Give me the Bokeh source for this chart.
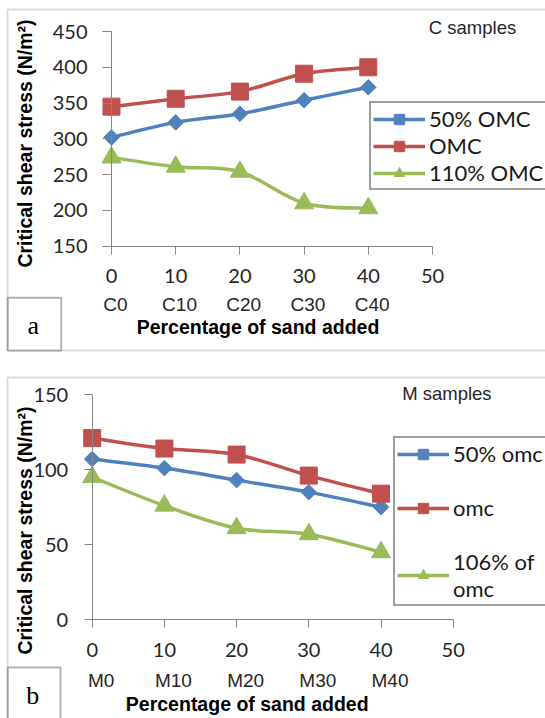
import numpy as np
from bokeh.plotting import figure
from bokeh.models import (Range1d, LinearAxis, FixedTicker, Legend, LegendItem,
                          Label, BoxAnnotation)
from bokeh.layouts import column
from bokeh.embed import file_html
from bokeh.resources import INLINE

# ---------------- data ----------------
sand_pct = [0, 10, 20, 30, 40]
x_ticks = [0, 10, 20, 30, 40, 50]
c_labels = ["C0", "C10", "C20", "C30", "C40"]
m_labels = ["M0", "M10", "M20", "M30", "M40"]

c_50_omc = [302, 323, 335, 354, 372]
c_omc = [345, 356, 366, 391, 400]
c_110_omc = [274, 261, 254, 210, 203]
c_names = ["50% OMC", "OMC", "110% OMC"]
c_y_ticks = [150, 200, 250, 300, 350, 400, 450]

m_50_omc = [107, 101, 93, 85, 75]
m_omc = [121, 114, 110, 96, 84]
m_106_omc = [95, 76, 61, 57, 45]
m_names = ["50% omc", "omc", "106% of\nomc"]
m_y_ticks = [0, 50, 100, 150]

y_title = "Critical shear stress (N/m\u00b2)"
x_title = "Percentage of sand added"

BLUE, RED, GREEN = "#4F81BD", "#C0504D", "#9BBB59"
AXIS_GRAY = "#868686"
TICK_FONT = "Lato"
TEXT_FONT = "Liberation Sans"
W = 545


def smooth_segments(xs, ys, t=1.0 / 6.0):
    """Bezier control points (Excel-like smoothed line) through the data."""
    n = len(xs)
    d = dict(x0=[], y0=[], x1=[], y1=[], cx0=[], cy0=[], cx1=[], cy1=[])
    for i in range(n - 1):
        ip, inx = max(i - 1, 0), min(i + 2, n - 1)
        d["x0"].append(xs[i]); d["y0"].append(ys[i])
        d["x1"].append(xs[i + 1]); d["y1"].append(ys[i + 1])
        d["cx0"].append(xs[i] + (xs[i + 1] - xs[ip]) * t)
        d["cy0"].append(ys[i] + (ys[i + 1] - ys[ip]) * t)
        d["cx1"].append(xs[i + 1] - (xs[inx] - xs[i]) * t)
        d["cy1"].append(ys[i + 1] - (ys[inx] - ys[i]) * t)
    return d


def panel(g):
    H = g["height"]
    x0p, xppu = g["x0_px"], g["x_ppu"]
    ybv, ybp, yppu = g["y_base"], g["y_base_px"], g["y_ppu"]
    px2x = lambda px: (px - x0p) / xppu
    py2y = lambda py: ybv + (ybp - py) / yppu

    p = figure(width=W, height=H, x_range=Range1d(px2x(0), px2x(W)),
               y_range=Range1d(py2y(H), py2y(0)), output_backend="svg",
               toolbar_location=None, x_axis_type=None, y_axis_type=None,
               min_border_left=0, min_border_right=0, min_border_top=0,
               min_border_bottom=0)
    p.outline_line_color = None
    p.background_fill_color = "white"
    p.border_fill_color = "white"
    p.extra_x_ranges = {"lab": Range1d(px2x(0) - g["lab_shift"], px2x(W) - g["lab_shift"])}

    # panel border (drawn first)
    p.add_layout(BoxAnnotation(left=px2x(7), right=px2x(W + 60),
                               top=py2y(g["border_top"]), bottom=py2y(g["border_bottom"]),
                               fill_alpha=0, line_color="#8c8c8c", line_width=2,
                               level="underlay"))

    # y axis
    ya = LinearAxis(ticker=FixedTicker(ticks=g["y_ticks"]), bounds=g["y_bounds"],
                    fixed_location=0,
                    axis_line_color=AXIS_GRAY, axis_line_width=1,
                    major_tick_line_color=AXIS_GRAY, major_tick_out=g["y_tick_out"],
                    major_tick_in=0, minor_tick_line_color=None,
                    major_label_standoff=g["y_standoff"],
                    major_label_text_font=TICK_FONT,
                    major_label_text_font_size="20px",
                    major_label_text_color="#262626")
    p.add_layout(ya, "left")

    # x axis with numbers
    xa = LinearAxis(ticker=FixedTicker(ticks=x_ticks), bounds=(0, 50),
                    fixed_location=ybv,
                    axis_line_color=AXIS_GRAY, axis_line_width=1,
                    major_tick_line_color=AXIS_GRAY, major_tick_out=8,
                    major_tick_in=0, minor_tick_line_color=None,
                    major_label_standoff=15, major_label_text_font=TICK_FONT,
                    major_label_text_font_size="20px",
                    major_label_text_color="#262626")
    p.add_layout(xa, "below")

    # sample names under the numbers
    xc = LinearAxis(ticker=FixedTicker(ticks=sand_pct), x_range_name="lab",
                    major_label_overrides=dict(zip(sand_pct, g["cat_labels"])),
                    bounds=(0, 40), fixed_location=ybv, axis_line_color=None,
                    major_tick_line_color=None, minor_tick_line_color=None,
                    major_tick_out=0, major_tick_in=0,
                    major_label_standoff=g["cat_standoff"],
                    major_label_text_font=TEXT_FONT,
                    major_label_text_font_size="19px",
                    major_label_text_color="#262626")
    p.add_layout(xc, "below")

    # axis titles
    p.add_layout(Label(x=g["ytitle_xy"][0], y=g["ytitle_xy"][1], x_units="canvas",
                       y_units="canvas", text=y_title, angle=np.pi / 2,
                       text_font=TEXT_FONT, text_font_style="bold",
                       text_font_size="19.5px", text_align="center",
                       text_baseline="middle", text_color="#000000"))
    p.add_layout(Label(x=g["xtitle_xy"][0], y=g["xtitle_xy"][1], x_units="canvas",
                       y_units="canvas", text=x_title, text_font=TEXT_FONT,
                       text_font_style="bold", text_font_size="19.5px",
                       text_align="center", text_baseline="middle",
                       text_color="#000000"))

    # series
    styles = [(BLUE, "square", 11, np.pi / 4), (RED, "square", 17, 0.0),
              (GREEN, "triangle", 19, 0.0)]
    items = []
    for ys, name, (col, mk, sz, ang) in zip(g["series"], g["names"], styles):
        seg = smooth_segments(sand_pct, ys)
        bz = p.bezier(x0="x0", y0="y0", x1="x1", y1="y1", cx0="cx0", cy0="cy0",
                      cx1="cx1", cy1="cy1", source=seg, line_color=col,
                      line_width=3.5)
        sc = p.scatter(sand_pct, ys, marker=mk, size=sz, angle=ang,
                       fill_color=col, line_color=col, line_width=1)
        items.append(LegendItem(label=name, renderers=[bz, sc]))

    # note text
    p.add_layout(Label(x=g["note_xy"][0], y=g["note_xy"][1], x_units="canvas",
                       y_units="canvas", text=g["note"], text_font=TEXT_FONT,
                       text_font_size="18.5px", text_align="center",
                       text_baseline="middle", text_color="#262626"))

    # tag box with letter
    tb = g["tag_box"]
    p.add_layout(BoxAnnotation(left=px2x(tb[0]), right=px2x(tb[1]), top=py2y(tb[2]),
                               bottom=py2y(tb[3]), fill_color="white", fill_alpha=1,
                               line_color="#000000", line_width=2))
    p.add_layout(Label(x=g["tag_xy"][0], y=g["tag_xy"][1], x_units="canvas",
                       y_units="canvas", text=g["tag"], text_font="Liberation Serif",
                       text_font_size="26px", text_align="center",
                       text_baseline="middle", text_color="#000000"))

    legend = Legend(items=items, location=g["legend_loc"], orientation="vertical",
                    border_line_color="#404040", border_line_width=2,
                    background_fill_color="white", background_fill_alpha=1,
                    padding=2, margin=0, spacing=g["legend_spacing"], glyph_width=52,
                    glyph_height=26, label_height=26, label_width=g["legend_label_width"],
                    label_standoff=4, label_text_font=TICK_FONT,
                    label_text_font_size="22px", label_text_color="#1a1a1a")
    p.add_layout(legend)
    return p


geo_a = dict(height=358, x0_px=111, x_ppu=6.42, y_base=150, y_base_px=245.7,
             y_ppu=214.7 / 300, lab_shift=0.6,
             y_ticks=c_y_ticks, y_bounds=(150, 450), y_tick_out=9, y_standoff=15,
             cat_labels=c_labels, cat_standoff=48,
             ytitle_xy=(24.5, 143), xtitle_xy=(257.5, 326.5),
             series=[c_50_omc, c_omc, c_110_omc], names=c_names,
             legend_loc=(369, 168), legend_label_width=114, legend_spacing=0,
             note="C samples", note_xy=(472, 27), border_top=9, border_bottom=350,
             tag="a", tag_box=(7.3, 60.7, 297.3, 350), tag_xy=(32.8, 325))

geo_b = dict(height=360, x0_px=91.7, x_ppu=7.22, y_base=0, y_base_px=261.3,
             y_ppu=225.3 / 150, lab_shift=1.25,
             y_ticks=m_y_ticks, y_bounds=(0, 150), y_tick_out=8, y_standoff=16,
             cat_labels=m_labels, cat_standoff=50,
             ytitle_xy=(24.5, 172), xtitle_xy=(246.7, 345.5),
             series=[m_50_omc, m_omc, m_106_omc], names=m_names,
             legend_loc=(393, 112), legend_label_width=90, legend_spacing=27,
             note="M samples", note_xy=(446.4, 35), border_top=19, border_bottom=500,
             tag="b", tag_box=(7.3, 60, 309, 500), tag_xy=(32.2, 337))

pa = panel(geo_a)
pb = panel(geo_b)

layout = column(pa, pb, spacing=0)
open("out.html", "w").write(file_html(layout, INLINE))
